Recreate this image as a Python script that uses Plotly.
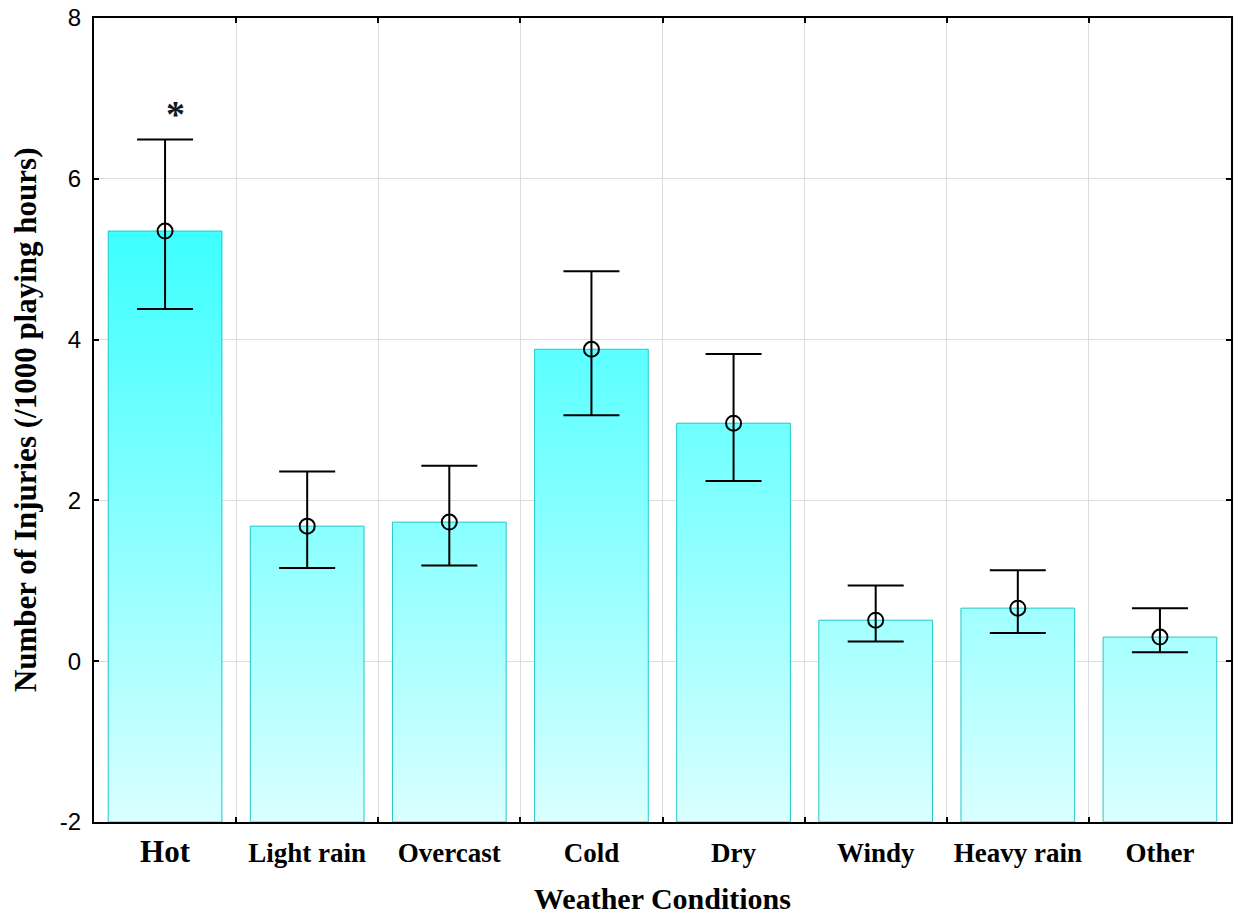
import plotly.graph_objects as go

# Injury rate per weather condition (mean with lower/upper confidence limits)
categories = ["Hot", "Light rain", "Overcast", "Cold", "Dry", "Windy", "Heavy rain", "Other"]
means = [5.35, 1.68, 1.73, 3.88, 2.96, 0.51, 0.66, 0.30]
upper = [6.49, 2.36, 2.43, 4.85, 3.82, 0.94, 1.13, 0.66]
lower = [4.38, 1.16, 1.19, 3.06, 2.24, 0.245, 0.35, 0.11]
y_ticks = [-2, 0, 2, 4, 6, 8]

BASE = -2
HALF_W = 0.4
SERIF = "Liberation Serif, Times New Roman, serif"
SANS = "Liberation Sans, Arial, sans-serif"

fig = go.Figure()

# Bars drawn as filled polygons so they can carry a shared vertical gradient
gradient = dict(
    type="vertical",
    colorscale=[[0.0, "#DAFFFF"], [0.54, "#82FFFF"], [1.0, "#3CFFFF"]],
    start=BASE,
    stop=5.4,
)
for i, v in enumerate(means):
    fig.add_trace(go.Scatter(
        x=[i - HALF_W, i + HALF_W, i + HALF_W, i - HALF_W, i - HALF_W],
        y=[BASE, BASE, v, v, BASE],
        mode="lines",
        fill="toself",
        fillgradient=gradient,
        line=dict(color="#22C8C8", width=1),
        hoverinfo="skip",
        showlegend=False,
    ))

# Means with asymmetric error bars
fig.add_trace(go.Scatter(
    x=list(range(len(categories))),
    y=means,
    mode="markers",
    marker=dict(symbol="circle-open", size=15, color="black", line=dict(width=2, color="black")),
    error_y=dict(
        type="data",
        symmetric=False,
        array=[u - m for u, m in zip(upper, means)],
        arrayminus=[m - l for m, l in zip(means, lower)],
        color="black",
        thickness=2,
        width=28,
    ),
    showlegend=False,
))

tick_text = ['<span style="font-size:31px">Hot</span>'] + categories[1:]

fig.update_layout(
    width=1234,
    height=919,
    margin=dict(l=94, r=1, t=18, b=97),
    paper_bgcolor="white",
    plot_bgcolor="white",
    xaxis=dict(
        range=[-0.5, len(categories) - 0.5],
        tickvals=list(range(len(categories))),
        ticktext=tick_text,
        ticks="",
        showgrid=False,
        zeroline=False,
        showline=True,
        linecolor="black",
        linewidth=2,
        mirror="ticks",
        tickfont=dict(family=SERIF, size=27, color="black", weight="bold"),
        ticklabelstandoff=6,
        minor=dict(
            tickvals=[k + 0.5 for k in range(len(categories) - 1)],
            ticks="inside",
            ticklen=5,
            tickwidth=2,
            tickcolor="black",
            showgrid=True,
            gridcolor="#DDDDDD",
            gridwidth=1,
        ),
    ),
    yaxis=dict(
        range=[y_ticks[0], y_ticks[-1]],
        tickvals=y_ticks,
        ticktext=[str(t) for t in y_ticks],
        ticks="inside",
        ticklen=5,
        tickwidth=2,
        tickcolor="black",
        showgrid=True,
        gridcolor="#DDDDDD",
        gridwidth=1,
        zeroline=False,
        showline=True,
        linecolor="black",
        linewidth=2,
        mirror="ticks",
        tickfont=dict(family=SANS, size=24, color="black"),
        ticklabelstandoff=6,
    ),
    annotations=[
        dict(
            text="<b>Weather Conditions</b>",
            xref="paper", yref="paper", x=0.5, y=-0.095,
            xanchor="center", yanchor="middle", showarrow=False,
            font=dict(family=SERIF, size=30, color="black"),
        ),
        dict(
            text="<b>Number of Injuries (/1000 playing hours)</b>",
            xref="paper", yref="paper", x=-0.0606, y=0.5,
            xanchor="center", yanchor="middle", textangle=-90, showarrow=False,
            font=dict(family=SERIF, size=31, color="black"),
        ),
        dict(
            text="<b>*</b>",
            x=0, y=upper[0], xref="x", yref="y",
            xanchor="center", yanchor="bottom", xshift=10, yshift=2,
            showarrow=False,
            font=dict(family=SERIF, size=38, color="#101820"),
        ),
    ],
)

fig.write_html("out.html")
